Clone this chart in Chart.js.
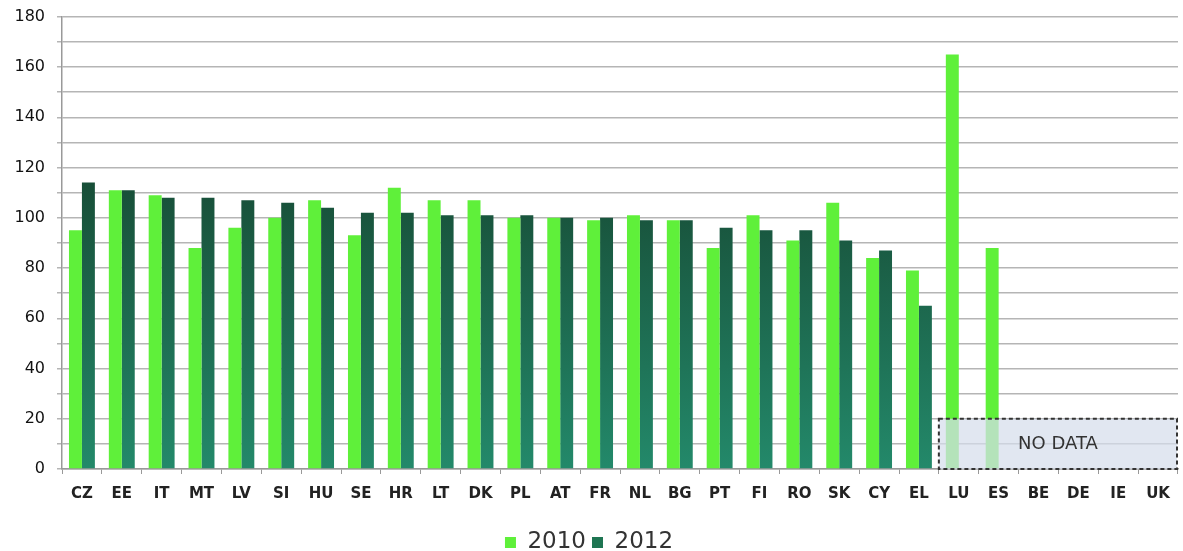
<!DOCTYPE html>
<html>
<head>
<meta charset="utf-8">
<script src="https://cdn.jsdelivr.net/npm/chart.js@4/dist/chart.umd.min.js"></script>
<style>
  body { margin: 0; background: #fff; }
</style>
</head>
<body>
<canvas id="chart" width="1183" height="551"></canvas>
<script>
// countries, in display order
var countries = ["CZ", "EE", "IT", "MT", "LV", "SI", "HU", "SE", "HR", "LT", "DK", "PL", "AT", "FR",
    "NL", "BG", "PT", "FI", "RO", "SK", "CY", "EL", "LU", "ES", "BE", "DE", "IE", "UK"];

var values2010 = [95, 111, 109, 88, 96, 100, 107, 93, 112, 107, 107, 100, 100, 99,
    101, 99, 88, 101, 91, 106, 84, 79, 165, 88, null, null, null, null];
var values2012 = [114, 111, 108, 108, 107, 106, 104, 102, 102, 101, 101, 101, 100, 100,
    99, 99, 96, 95, 95, 91, 87, 65, null, null, null, null, null, null];

// "NO DATA" region: from first missing 2012 country to the end, up to this value
var noDataFrom = "LU";
var noDataTop = 20;

var canvas = document.getElementById("chart");

// dark series uses a vertical gradient like the original
function darkGradient(context) {
    var chart = context.chart;
    var area = chart.chartArea;
    if (!area) return "#1e6e4c";
    var g = chart.ctx.createLinearGradient(0, area.top + 150, 0, area.bottom);
    g.addColorStop(0, "#174b35");
    g.addColorStop(1, "#23896a");
    return g;
}

var noDataBox = {
    id: "noDataBox",
    afterDatasetsDraw: function (chart) {
        var ctx = chart.ctx;
        var x = chart.scales.x;
        var y = chart.scales.y;
        var i = countries.indexOf(noDataFrom);
        var left = (x.getPixelForValue(i - 1) + x.getPixelForValue(i)) / 2;
        var right = chart.chartArea.right - 1;
        var top = y.getPixelForValue(noDataTop);
        var bottom = y.getPixelForValue(0);
        ctx.save();
        ctx.fillStyle = "rgba(214, 222, 236, 0.72)";
        ctx.fillRect(left, top, right - left, bottom - top);
        ctx.setLineDash([4, 3]);
        ctx.lineWidth = 2;
        ctx.strokeStyle = "#333";
        ctx.strokeRect(left, top, right - left, bottom - top);
        ctx.setLineDash([]);
        ctx.fillStyle = "#333";
        ctx.font = "18px 'DejaVu Sans'";
        ctx.textAlign = "center";
        ctx.textBaseline = "middle";
        ctx.fillText("NO DATA", (left + right) / 2, (top + bottom) / 2);
        ctx.restore();
    },
};

var chart = new Chart(canvas, {
    type: "bar",
    data: {
        labels: countries,
        datasets: [
            {
                label: "2010",
                data: values2010,
                backgroundColor: "#5ff03a",
                borderWidth: 0,
            },
            {
                label: "2012",
                data: values2012,
                backgroundColor: darkGradient,
                borderWidth: 0,
            },
        ],
    },
    options: {
        responsive: false,
        animation: false,
        layout: {
            padding: { top: 1, right: 5, left: 0, bottom: -13 },
        },
        datasets: {
            bar: {
                categoryPercentage: 0.65,
                barPercentage: 1.0,
            },
        },
        scales: {
            y: {
                min: 0,
                max: 180,
                border: { color: "#999", width: 1.5 },
                grid: {
                    color: "#b5b5b5",
                    lineWidth: 1.5,
                    tickLength: 5,
                },
                ticks: {
                    stepSize: 10,
                    color: "#111",
                    // small lineHeight keeps the top label from pushing the plot down
                    font: { family: "DejaVu Sans", size: 16, lineHeight: 0.6 },
                    padding: 12,
                    callback: function (v) {
                        return v % 20 === 0 ? v : "";
                    },
                },
                afterFit: function (scale) {
                    scale.width = 62;
                },
            },
            x: {
                border: { color: "#999", width: 1.5 },
                grid: {
                    drawOnChartArea: false,
                    color: "#999",
                    tickLength: 5,
                },
                ticks: {
                    color: "#222",
                    font: { family: "DejaVu Sans", size: 15, weight: "bold" },
                    padding: 11,
                },
                afterFit: function (scale) {
                    scale.height = 56;
                },
            },
        },
        plugins: {
            legend: {
                position: "bottom",
                labels: {
                    color: "#333",
                    font: { family: "DejaVu Sans", size: 23, lineHeight: 1 },
                    boxWidth: 11,
                    boxHeight: 11,
                    padding: 6,
                    generateLabels: function (chart) {
                        var fills = ["#5ff03a", "#1e7552"];
                        return chart.data.datasets.map(function (ds, i) {
                            return {
                                text: ds.label,
                                fillStyle: fills[i],
                                strokeStyle: fills[i],
                                lineWidth: 0,
                                datasetIndex: i,
                                fontColor: "#333",
                            };
                        });
                    },
                },
            },
            tooltip: { enabled: false },
        },
    },
    plugins: [noDataBox],
});
</script>
</body>
</html>
